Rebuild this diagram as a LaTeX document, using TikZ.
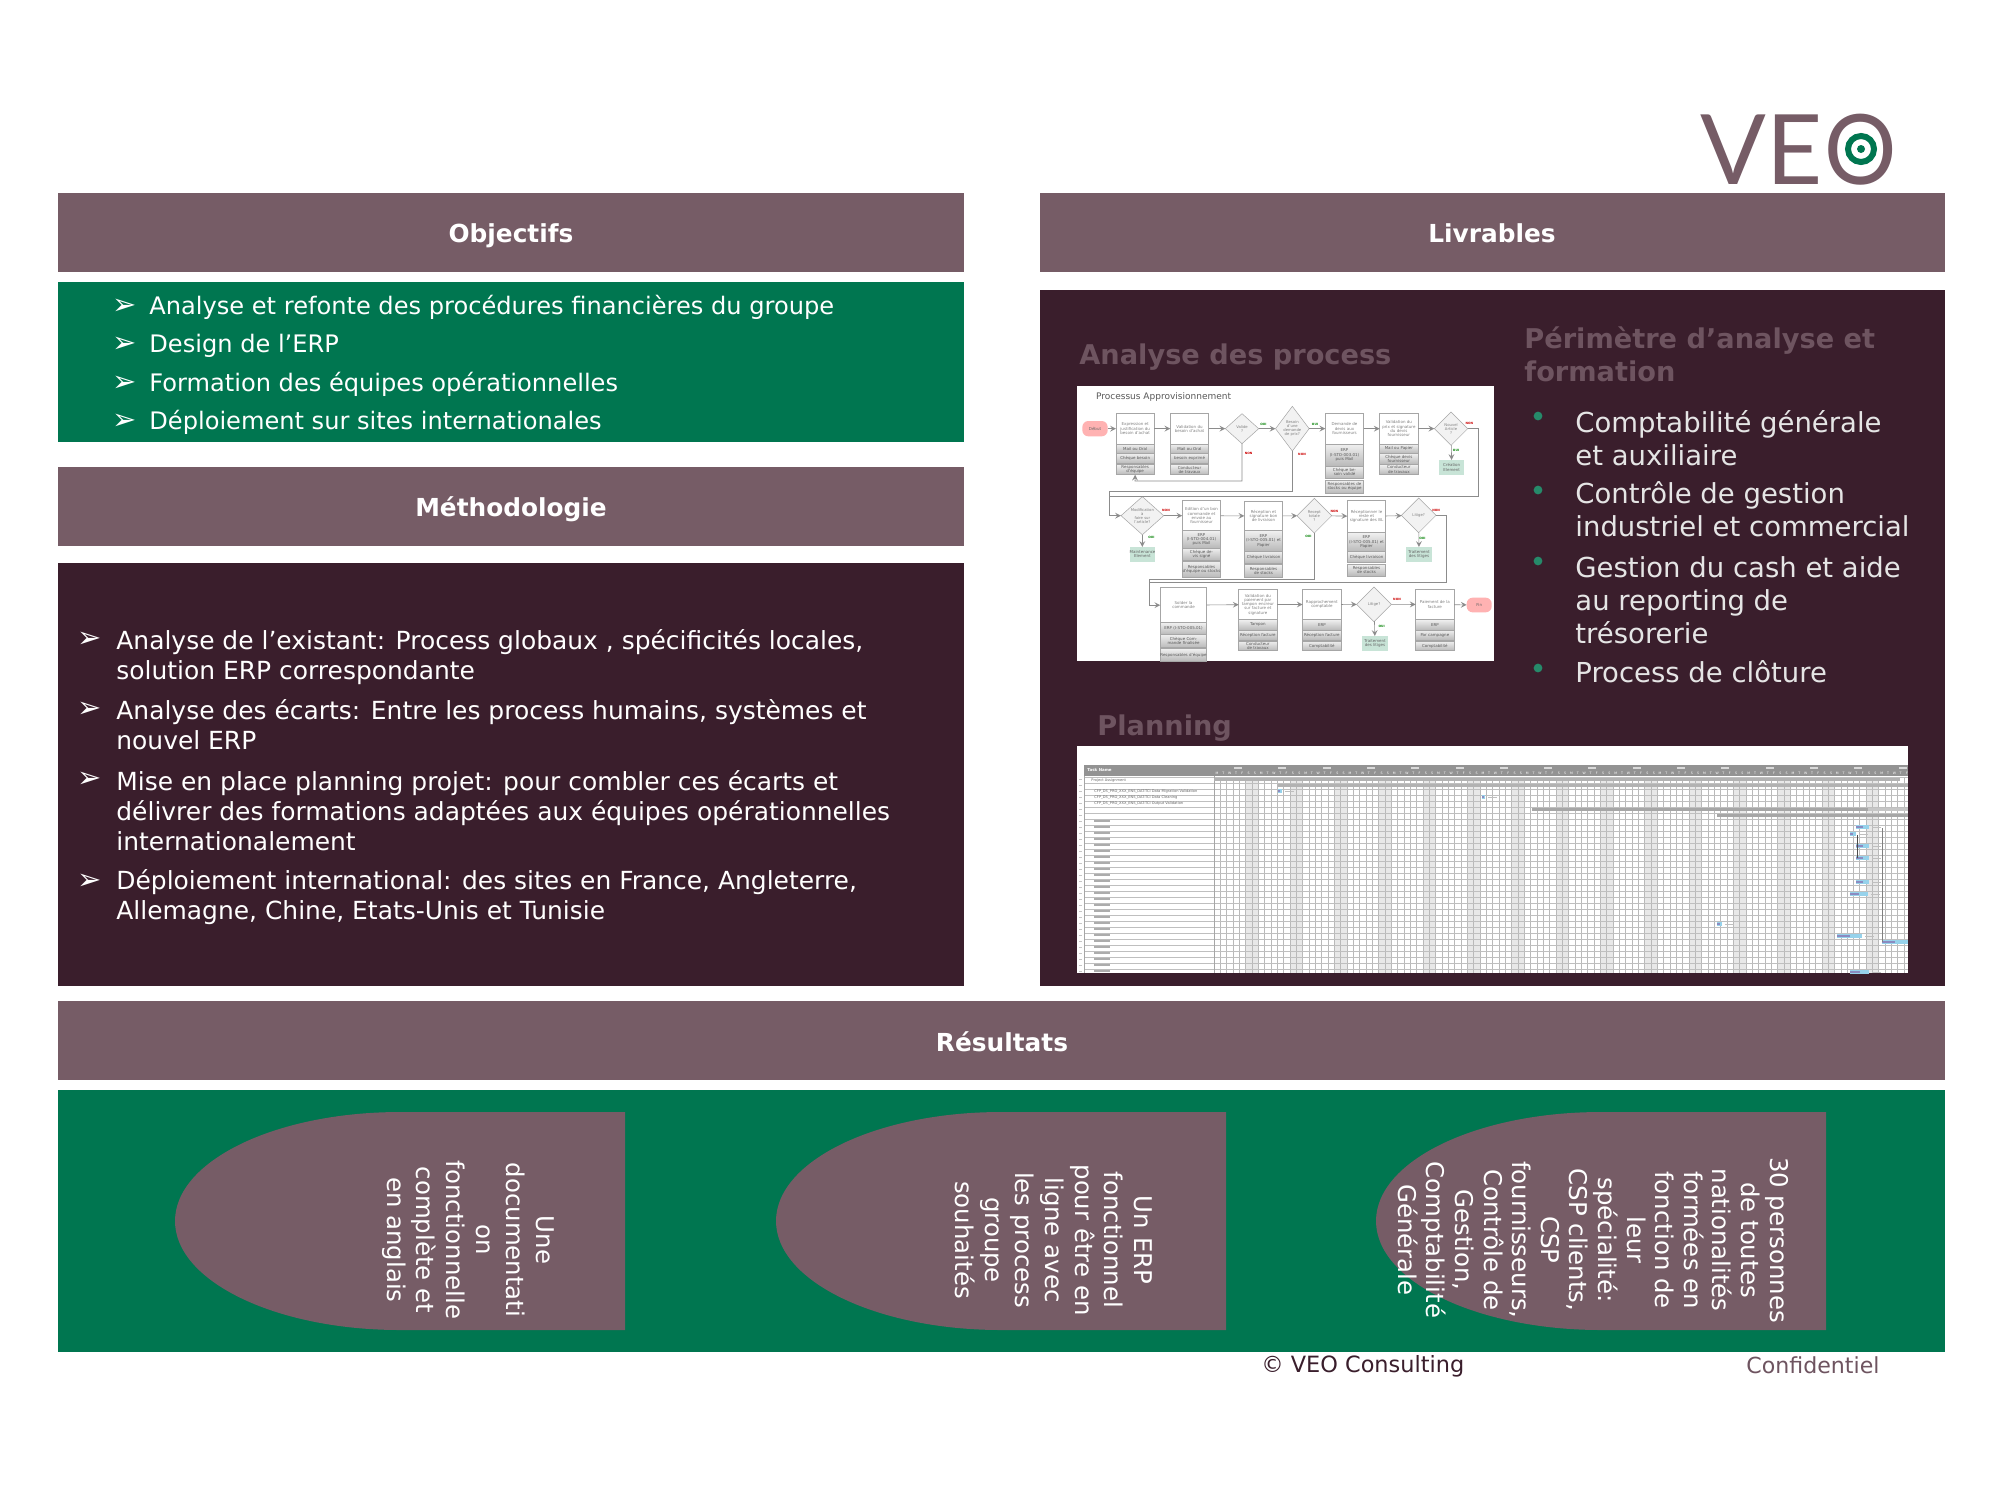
\documentclass[tikz,border=0pt]{standalone}
\usepackage{fontspec}
\setmainfont{DejaVu Sans}
\newfontfamily\logofont{Lato}
\usetikzlibrary{calc, shapes.geometric}
\definecolor{veomauve}{RGB}{118,92,102}
\definecolor{veogreen}{RGB}{0,118,80}
\definecolor{veodark}{RGB}{58,30,44}
\definecolor{veohead}{RGB}{110,84,96}
\definecolor{veoblue}{RGB}{150,210,235}
\definecolor{fcteal}{RGB}{200,228,215}
\tikzset{
  band/.style={fill=veomauve, draw=none},
  bandtext/.style={text=white, anchor=base, inner sep=0pt, font=\bfseries\fontsize{12.4}{14}\selectfont},
  objtext/.style={text=white, anchor=base west, inner sep=0pt, font=\fontsize{12.05}{15}\selectfont},
  bullettext/.style={text=white, anchor=base west, inner sep=0pt, font=\fontsize{14.5}{15}\selectfont},
  bodytext/.style={text=white, anchor=west, align=left, inner sep=0pt, font=\fontsize{12.47}{15}\selectfont},
  bigtext/.style={text=white!90!black, anchor=west, align=left, inner sep=0pt, font=\fontsize{13.75}{16.6}\selectfont},
  headtext/.style={text=veohead, anchor=west, align=left, inner sep=0pt, font=\bfseries\fontsize{13.6}{16.6}\selectfont},
  rottext/.style={text=white, rotate=-90, align=center, inner sep=0pt, font=\fontsize{12.2}{14.9}\selectfont},
  fctitle/.style={draw=gray!70, fill=white, line width=.25pt, text=gray, inner sep=0pt, outer sep=0pt, align=center, font=\fontsize{2}{2.15}\selectfont},
  fcrow/.style={draw=gray!70, top color=gray!12, bottom color=gray!55, line width=.25pt, text=gray!70!black, inner sep=0pt, outer sep=0pt, align=center, font=\fontsize{2}{2.15}\selectfont},
  fcgreen/.style={fill=fcteal, text=gray!80!black, inner sep=0pt, outer sep=0pt, align=center, font=\fontsize{2}{2.15}\selectfont},
  fcpink/.style={fill=red!30, rounded corners=3pt, text=gray!80!black, inner sep=0pt, outer sep=0pt, align=center, font=\fontsize{2}{2.15}\selectfont},
  fcdiamond/.style={diamond, draw=gray!70, fill=gray!10, line width=.25pt, text=gray, inner sep=0pt, outer sep=0pt, align=center, font=\fontsize{1.9}{2}\selectfont},
  fcwire/.style={draw=gray!90, line width=.3pt, ->, >=stealth},
  fcnon/.style={text=red!80!black, inner sep=0pt, font=\bfseries\fontsize{1.5}{1.6}\selectfont},
  fcoui/.style={text=green!50!black, inner sep=0pt, font=\bfseries\fontsize{1.5}{1.6}\selectfont},
}
% one box of the flow chart: name, x1, x2, y1, y2, style, text
\newcommand{\fcbox}[7]{%
  \pgfmathsetmacro\fcw{(#3-#2)/6}\pgfmathsetmacro\fch{(#5-#4)/6}%
  \node[#6, minimum width=\fcw pt, minimum height=\fch pt, text width=\fcw pt] (#1) at ({(#2+#3)/2},{(#4+#5)/2}) {#7};}
% a box with a title and two rows below
\newcommand{\fcproc}[9]{%
  \fcbox{#1}{#2}{#3}{#4}{#5}{fctitle}{#6}%
  \fcbox{#1a}{#2}{#3}{#5}{#7}{fcrow}{#8}%
  \fcbox{#1b}{#2}{#3}{#7}{#9}{fcrow}}
\newcommand{\fcdiam}[6]{%
  \pgfmathsetmacro\fcw{#4/6}\pgfmathsetmacro\fch{#5/6}%
  \node[fcdiamond, minimum width=\fcw pt, minimum height=\fch pt] (#1) at (#2,#3) {#6};}
% a result shape, flat on the right
\newcommand{\resultshape}[1]{%
  \fill[veomauve] (#1,1112) -- (#1-225,1112) arc[start angle=90, end angle=270, x radius=112.5pt, y radius=54.5pt] -- (#1,1330) -- cycle;}

\begin{document}
\begin{tikzpicture}[x=0.5pt, y=-0.5pt]
\useasboundingbox (0,0) rectangle (2000,1499);
\fill[white] (0,0) rectangle (2000,1499);

% logo
\node[anchor=base west, inner sep=0pt, text=veomauve, font=\logofont\fontsize{48.6}{50}\selectfont] (logo) at (1700,184) {VE};
\node[anchor=base west, inner sep=0pt, text=veomauve, xscale=.93, font=\logofont\fontsize{48.6}{50}\selectfont] (logoo) at (1824,184) {O};
\draw[veogreen, line width=3pt] (1861,149) circle[radius=6.5pt];
\fill[veogreen] (1861,149) circle[radius=2pt];

% bands and panels
\fill[band] (58,193) rectangle (964,272);
\fill[band] (1040,193) rectangle (1945,272);
\fill[veogreen] (58,282) rectangle (964,442);
\fill[band] (58,467) rectangle (964,546);
\fill[veodark] (58,563) rectangle (964,986);
\fill[veodark] (1040,290) rectangle (1945,986);
\fill[band] (58,1001) rectangle (1945,1080);
\fill[veogreen] (58,1090) rectangle (1945,1352);
\node[bandtext] (objectifs) at (511,242) {Objectifs};
\node[bandtext] (livrables) at (1492,242) {Livrables};
\node[bandtext] (methodo) at (511,516) {Méthodologie};
\node[bandtext] (resultats) at (1002,1051) {Résultats};

% objectifs
\foreach \y/\txt [count=\i] in {314/Analyse et refonte des procédures financières du groupe, 352.5/Design de l’ERP, 391/Formation des équipes opérationnelles, 429/Déploiement sur sites internationales}{
  \node[objtext] (obj\i) at (149,\y) {\txt};
  \node[bullettext] (objm\i) at (112,\y) {➢};
}

% methodologie
\node[bodytext] (met1) at (116,657) {Analyse de l’existant: Process globaux , spécificités locales,\\solution ERP correspondante};
\node[bodytext] (met2) at (116,725) {Analyse des écarts: Entre les process humains, systèmes et\\nouvel ERP};
\node[bodytext] (met3) at (116,811) {Mise en place planning projet: pour combler ces écarts et\\délivrer des formations adaptées aux équipes opérationnelles\\internationalement};
\node[bodytext] (met4) at (116,897) {Déploiement international: des sites en France, Angleterre,\\Allemagne, Chine, Etats-Unis et Tunisie};
\foreach \y [count=\i] in {647,717,787,889}{
  \node[bullettext] (metm\i) at (77,\y) {➢};
}

% livrables
\node[headtext] (headproc) at (1079,357) {Analyse des process};
\node[headtext] (headper) at (1524,354) {Périmètre d’analyse et\\formation};
\node[headtext] (headplan) at (1097,728) {Planning};
\node[bigtext] (per1) at (1575,438) {Comptabilité générale\\et auxiliaire};
\node[bigtext] (per2) at (1575,509) {Contrôle de gestion\\industriel et commercial};
\node[bigtext] (per3) at (1575,600) {Gestion du cash et aide\\au reporting de\\trésorerie};
\node[bigtext] (per4) at (1575,672) {Process de clôture};
\foreach \y in {416,490,561,668}{
  \fill[veogreen!85!white] (1538,\y) circle[radius=2.2pt];
}

% process image, in the coordinates of a 3x crop
\fill[white] (1077,386) rectangle (1494,661);
\begin{scope}[shift={(1050,370)}, x=0.16667pt, y=-0.16667pt]
\node[anchor=west, inner sep=0pt, text=gray!70!black, font=\fontsize{4.5}{5}\selectfont] (fctitle) at (137,80) {Processus Approvisionnement};
\fcbox{start}{97}{173}{153}{199}{fcpink}{Début}
\fcproc{a1}{198}{313}{130}{222}{Expression et\\justification du\\besoin d'achat}{250}{Mail ou Oral}{281}{Chèque besoin}
\fcbox{a1c}{198}{313}{284}{314}{fcrow}{Responsables d'équipe}
\fcproc{a2}{361}{476}{130}{222}{Validation du\\besoin d'achat}{250}{Mail ou Oral}{281}{besoin exprimé}
\fcbox{a2c}{361}{476}{284}{314}{fcrow}{Conducteur de travaux}
\fcdiam{d1}{576}{176}{100}{90}{Valide\\?}
\fcdiam{d2}{727}{176}{100}{134}{Besoin\\d'une\\demande\\de prix?}
\fcproc{a3}{826}{941}{130}{222}{Demande de\\devis aux\\fournisseurs}{288}{ERP\\(I-STO-003.01)\\puis Mail}{325}{Chèque besoin validé}
\fcbox{a3c}{826}{941}{330}{370}{fcrow}{Responsables de stocks ou équipe}
\fcproc{a4}{989}{1104}{130}{222}{Validation du\\prix et signature\\du devis\\fournisseur}{250}{Mail ou Papier}{282}{Chèque devis fournisseur}
\fcbox{a4c}{989}{1104}{284}{313}{fcrow}{Conducteur de travaux}
\fcdiam{d3}{1203}{176}{100}{100}{Nouvel\\Article\\?}
\fcbox{g1}{1167}{1243}{270}{315}{fcgreen}{Création\\Element}
\fcdiam{d4}{277}{437}{128}{104}{Modification\\à\\faire sur\\l'article?}
\fcbox{g2}{239}{315}{531}{575}{fcgreen}{Maintenance\\Element}
\fcproc{b1}{397}{512}{392}{482}{Edition d'un bon\\commande et\\envoie au\\fournisseur}{534}{ERP\\(I-STO-004.01)\\puis Mail}{570}{Chèque devis signé}
\fcbox{b1c}{397}{512}{573}{622}{fcrow}{Responsables d'équipe ou stocks}
\fcproc{b2}{583}{698}{394}{482}{Réception et\\signature bon\\de livraison}{543}{ERP\\(I-STO-005.01) et\\Papier}{579}{Chèque livraison}
\fcbox{b2c}{583}{698}{584}{622}{fcrow}{Responsables de stocks}
\fcdiam{d5}{793}{437}{104}{104}{Recept\\totale\\?}
\fcproc{b3}{892}{1007}{390}{488}{Réceptionner le\\reste et\\signature des BL}{545}{ERP\\(I-STO-005.01) et\\Papier}{578}{Chèque livraison}
\fcbox{b3c}{892}{1007}{582}{618}{fcrow}{Responsables de stocks}
\fcdiam{d6}{1106}{436}{104}{104}{Litige?}
\fcbox{g3}{1069}{1145}{531}{575}{fcgreen}{Traitement\\des litiges}
\fcproc{c1}{331}{470}{653}{758}{Solder la\\commande}{793}{ERP (I-STO-005.01)}{833}{Chèque Commande finalisée}
\fcbox{c1c}{331}{470}{836}{873}{fcrow}{Responsables d'équipe}
\fcproc{c2}{566}{681}{658}{749}{Validation du\\paiement par\\tampon encreur\\sur facture et\\signature}{780}{Tampon}{810}{Réception facture}
\fcbox{c2c}{566}{681}{813}{842}{fcrow}{Conducteur de travaux}
\fcproc{c3}{758}{873}{658}{749}{Rapprochement\\comptable}{780}{ERP}{810}{Réception facture}
\fcbox{c3c}{758}{873}{813}{842}{fcrow}{Comptabilité}
\fcdiam{d7}{972}{703}{104}{104}{Litige?}
\fcbox{g4}{937}{1013}{798}{842}{fcgreen}{Traitement\\des litiges}
\fcproc{c4}{1097}{1212}{658}{749}{Paiement de la\\facture}{780}{ERP}{810}{Par campagne}
\fcbox{c4c}{1097}{1212}{813}{842}{fcrow}{Comptabilité}
\fcbox{stop}{1250}{1325}{683}{727}{fcpink}{Fin}
\coordinate (p1) at (255,333);
\coordinate (p2) at (178,365);
\coordinate (p3) at (1286,378);
\coordinate (p4) at (178,378);
\coordinate (p5) at (298,628);
\coordinate (p6) at (1190,637);
\coordinate (p7) at (298,637);
\draw[fcwire] (start) -- (a1);
\draw[fcwire] (a1) -- (a2);
\draw[fcwire] (a2) -- (d1);
\draw[fcwire] (d1) -- (d2);
\draw[fcwire] (d2) -- (a3);
\draw[fcwire] (a3) -- (a4);
\draw[fcwire] (a4) -- (d3);
\draw[fcwire] (d3) -- (g1);
\draw[fcwire] (d1.south) |- (p1) -- (a1c.south);
\draw[fcwire] (d2.south) |- (p2) |- (d4.west);
\draw[fcwire, -] (d3.east) -| (p3) -- (p4);
\draw[fcwire] (d4) -- (b1);
\draw[fcwire] (d4) -- (g2);
\draw[fcwire] (b1) -- (b2);
\draw[fcwire] (b2) -- (d5);
\draw[fcwire] (d5) -- (b3);
\draw[fcwire] (b3) -- (d6);
\draw[fcwire] (d6) -- (g3);
\draw[fcwire] (d5.south) |- (p5) |- (c1.west);
\draw[fcwire, -] (d6.east) -| (p6) -- (p7);
\draw[fcwire] (c1) -- (c2);
\draw[fcwire] (c2) -- (c3);
\draw[fcwire] (c3) -- (d7);
\draw[fcwire] (d7) -- (c4);
\draw[fcwire] (d7) -- (g4);
\draw[fcwire] (c4) -- (stop);
\foreach \x/\y [count=\i] in {596/250, 756/254, 1258/161, 348/422, 853/423, 1158/422, 1041/689}{
  \node[fcnon] (non\i) at (\x,\y) {NON};
}
\foreach \x/\y [count=\i] in {640/163, 795/163, 1218/241, 304/502, 775/498, 1117/505, 995/768}{
  \node[fcoui] (oui\i) at (\x,\y) {OUI};
}
\end{scope}

% planning image
\fill[white] (1077,746) rectangle (1908,973);
\begin{scope}
\clip (1077,746) rectangle (1908,973);
\foreach \k in {0,...,15}{
  \fill[gray!18] ({1246+44.3*\k},777) rectangle ({1258.7+44.3*\k},973);
}
\foreach \k in {0,...,109}{
  \draw[gray!55, line width=.2pt] ({1214+6.33*\k},777) -- ({1214+6.33*\k},973);
}
\foreach \r in {0,...,33}{
  \draw[gray!50, line width=.25pt] (1084,{777+6*\r}) -- (1908,{777+6*\r});
}
\draw[gray!70, line width=.4pt] (1084,765) -- (1084,973);
\draw[gray!70, line width=.4pt] (1214,765) -- (1214,973);
\fill[gray!85] (1084,765) rectangle (1908,776);
\node[anchor=west, inner sep=0pt, text=white, font=\bfseries\fontsize{2}{2}\selectfont] (taskname) at (1087,770) {Task Name};
\foreach \k in {0,...,15}{
  \fill[white!70!gray] ({1234+44.3*\k},767) rectangle ({1242+44.3*\k},769);
}
\foreach \k [evaluate=\k as \dd using {int(mod(\k,7))}] in {0,...,109}{
  \ifcase\dd\def\dayl{M}\or\def\dayl{T}\or\def\dayl{W}\or\def\dayl{T}\or\def\dayl{F}\or\def\dayl{S}\or\def\dayl{S}\fi
  \node[inner sep=0pt, text=white, font=\fontsize{1.6}{1.6}\selectfont] (day\k) at ({1217+6.33*\k},773.5) {\dayl};
}
\node[anchor=west, inner sep=0pt, text=gray!80!black, font=\fontsize{1.8}{2}\selectfont] (row1) at (1091,780) {Project Assignment};
\node[anchor=west, inner sep=0pt, text=gray!80!black, font=\fontsize{1.8}{2}\selectfont] (row3) at (1094,792) {CFP\_DS\_PRO\_XXX\_ENS\_DAT-TCI Data Migration Validation};
\node[anchor=west, inner sep=0pt, text=gray!80!black, font=\fontsize{1.8}{2}\selectfont] (row4) at (1094,798) {CFP\_DS\_PRO\_XXX\_ENS\_DAT-TCI Data Cleaning};
\node[anchor=west, inner sep=0pt, text=gray!80!black, font=\fontsize{1.8}{2}\selectfont] (row5) at (1094,804) {CFP\_DS\_PRO\_XXX\_ENS\_DAT-TCI Output Validation};
\foreach \r in {7,...,32}{
  \fill[gray!65] (1094,{778+6*\r}) rectangle (1110,{780+6*\r});
}
\foreach \r in {0,...,32}{
  \fill[gray!45] (1079,{779+6*\r}) rectangle (1082,{780+6*\r});
}
\fill[gray!60] (1214,778) rectangle (1900,780.5);
\fill[gray!60] (1278,784) rectangle (1908,786.5);
\fill[gray!70] (1532,808) rectangle (1868,810.5);
\fill[gray!45] (1868,808) rectangle (1908,810.5);
\fill[gray!70] (1717,814) rectangle (1908,816.5);
\foreach \xa/\xb/\yy in {1278/1282/791, 1482/1485/797, 1717/1722/924, 1856/1869/827, 1850/1856/834, 1856/1869/846, 1856/1869/858, 1856/1869/882, 1850/1868/894, 1837/1862/936, 1882/1908/942, 1850/1869/972}{
  \fill[veoblue] (\xa,\yy-1.8) rectangle (\xb,\yy+1.8);
  \fill[gray!70!blue!70!white] (\xa,\yy-.8) rectangle ({(\xa+\xb)/2},\yy+.8);
  \fill[gray!50] (\xb+3,\yy-.5) rectangle (\xb+12,\yy+.5);
}
\draw[black!70, line width=.3pt] (1857,835) -- (1857,858);
\draw[gray, line width=.3pt] (1882,828) -- (1882,942);
\end{scope}

% resultats
\resultshape{625}
\resultshape{1226}
\resultshape{1826}
\node[rottext] (res1) at (468,1240) {Une\\documentati\\on\\fonctionnelle\\complète et\\en anglais};
\node[rottext] (res2) at (1054,1240) {Un ERP\\fonctionnel\\pour être en\\ligne avec\\les process\\groupe\\souhaités};
\node[rottext, font=\fontsize{12.2}{14.3}\selectfont] (res3) at (1593,1240) {30 personnes\\de toutes\\nationalités\\formées en\\fonction de\\leur\\spécialité:\\CSP clients,\\CSP\\fournisseurs,\\Contrôle de\\Gestion,\\Comptabilité\\Générale};

% footer
\node[anchor=west, inner sep=0pt, text=veodark, font=\fontsize{11.2}{13}\selectfont] (copyr) at (1261,1366) {© VEO Consulting};
\node[anchor=west, inner sep=0pt, text=veohead, font=\fontsize{11.05}{13}\selectfont] (confid) at (1746,1365) {Confidentiel};
\end{tikzpicture}
\end{document}
